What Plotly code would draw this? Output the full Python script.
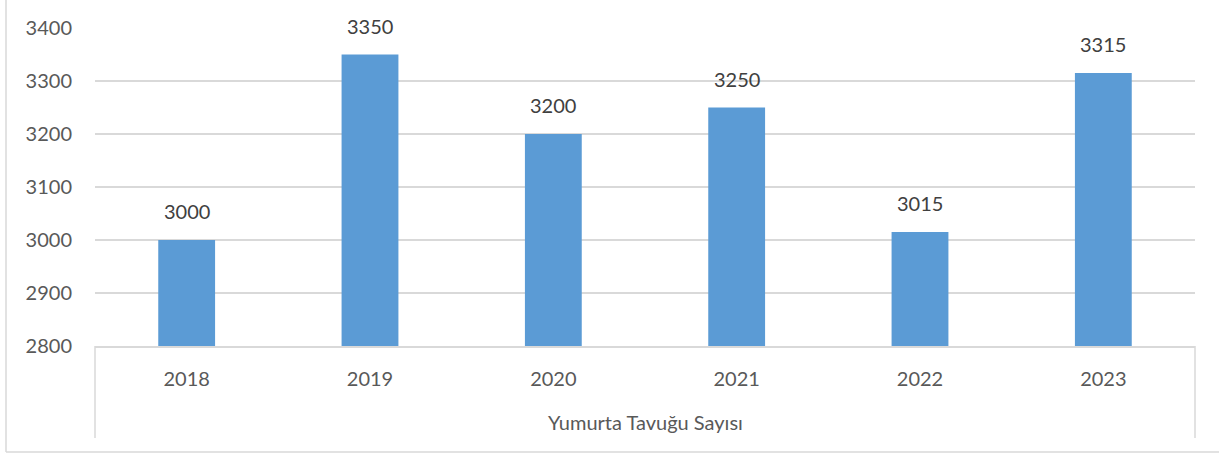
import plotly.graph_objects as go

years = ["2018", "2019", "2020", "2021", "2022", "2023"]
values = [3000, 3350, 3200, 3250, 3015, 3315]
group_label = "Yumurta Tavuğu Sayısı"
y_ticks = [2800, 2900, 3000, 3100, 3200, 3300, 3400]

W, H = 1219, 454
L, R, T, B = 95, 24, 28, 108
pw, ph = W - L - R, H - T - B

FONT = "Lato"
fig = go.Figure()
fig.add_trace(go.Bar(
    x=years, y=values,
    marker=dict(color="#5B9BD5", line=dict(width=0)),
    hoverinfo="x+y",
))

# value labels above bars (category index positions on the category axis)
for i, v in enumerate(values):
    fig.add_annotation(x=i, y=v, xref="x", yref="y", text=str(v), showarrow=False,
                       yanchor="bottom", yshift=15,
                       font=dict(family=FONT, size=20, color="#404040"))

# group label
fig.add_annotation(xref="paper", yref="paper", x=0.5, y=-(422 - T - ph) / ph,
                   text=group_label, showarrow=False, yanchor="middle",
                   font=dict(family=FONT, size=20, color="#595959"))

def px_x(p):
    return (p - L) / pw

def px_y(p):
    return (T + ph - p) / ph

shapes = []
for xx in (0, 1):
    shapes.append(dict(type="line", xref="paper", yref="paper",
                       x0=xx, x1=xx, y0=0, y1=px_y(438),
                       line=dict(color="#D9D9D9", width=1.5)))
shapes.append(dict(type="line", xref="paper", yref="paper",
                   x0=px_x(6), x1=px_x(6), y0=px_y(-5), y1=px_y(452),
                   line=dict(color="#D9D9D9", width=1.5)))
shapes.append(dict(type="line", xref="paper", yref="paper",
                   x0=px_x(6), x1=px_x(1225), y0=px_y(452), y1=px_y(452),
                   line=dict(color="#D9D9D9", width=1.5)))

fig.update_layout(
    width=W, height=H,
    margin=dict(l=L, r=R, t=T, b=B),
    plot_bgcolor="white", paper_bgcolor="white",
    bargap=0.69,
    showlegend=False,
    shapes=shapes,
    font=dict(family=FONT, size=20, color="#595959"),
    xaxis=dict(type="category", range=[-0.5, len(years) - 0.5],
               showgrid=False, showline=True,
               linecolor="#D9D9D9", linewidth=1.5,
               ticks="", tickfont=dict(family=FONT, size=20, color="#595959"),
               ticklabelstandoff=14),
    yaxis=dict(range=[2800, 3400], tickvals=y_ticks, showgrid=True,
               gridcolor="#D9D9D9", gridwidth=1.5, zeroline=False,
               showline=False, ticks="",
               tickfont=dict(family=FONT, size=20, color="#595959"),
               ticklabelstandoff=22),
)

fig.write_html("out.html",
               config={"displayModeBar": False},
               post_script="document.body.style.margin='0';document.body.style.overflow='hidden';")
